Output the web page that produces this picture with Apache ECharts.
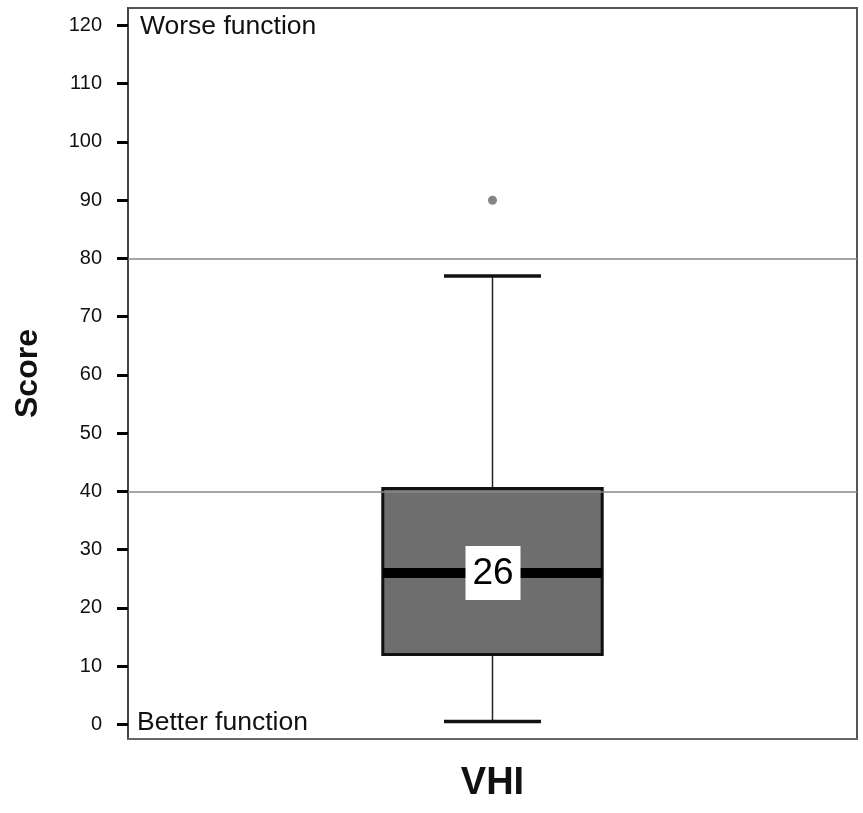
<!DOCTYPE html>
<html>
<head>
<meta charset="utf-8">
<script src="https://cdn.jsdelivr.net/npm/echarts@6/dist/echarts.min.js"></script>
<style>html,body{margin:0;padding:0;background:#fff}#c{width:863px;height:813px}</style>
</head>
<body>
<div id="c"></div>
<script>
const categories = ['VHI'];
// [lowWhisker, Q1, median, Q3, highWhisker]
const boxValues = [[0.5, 12, 26, 40.5, 77]];
const outliers = [['VHI', 90]];
const refLines = [40, 80];
const yTicks = [0,10,20,30,40,50,60,70,80,90,100,110,120];
const medianLabels = ['26'];

const FONT = 'Liberation Sans, Arial, Helvetica, sans-serif';
const chart = echarts.init(document.getElementById('c'));

chart.setOption({
  backgroundColor: '#fff',
  animation: false,
  grid: { left: 128, right: 6, top: 8, bottom: 74, show: true, borderColor: '#555', borderWidth: 2 },
  xAxis: {
    type: 'category', data: categories, boundaryGap: true,
    axisLine: { onZero: false, lineStyle: { color: '#666', width: 2 } },
    axisTick: { alignWithLabel: true, length: 14, lineStyle: { color: '#000', width: 3 } },
    axisLabel: { fontSize: 38, fontWeight: 'bold', color: '#111', fontFamily: FONT, margin: 26 }
  },
  yAxis: {
    type: 'value', min: -2.5, max: 123,
    name: 'Score', nameLocation: 'middle', nameGap: 84, nameRotate: 90,
    nameTextStyle: { fontSize: 32, fontWeight: 'bold', color: '#111', fontFamily: FONT },
    splitLine: { show: false },
    axisLine: { show: true, lineStyle: { color: '#444', width: 2 } },
    axisTick: { show: true, length: 11, customValues: yTicks, lineStyle: { color: '#000', width: 3 } },
    axisLabel: { customValues: yTicks, fontSize: 20, color: '#111', fontFamily: FONT, margin: 26 }
  },
  graphic: [
    { type: 'text', left: 140, top: 13, style: { text: 'Worse function', fontSize: 26.5, fill: '#111', fontFamily: FONT } },
    { type: 'text', left: 137, top: 709, style: { text: 'Better function', fontSize: 26.5, fill: '#111', fontFamily: FONT } }
  ],
  series: [
    {
      type: 'line', data: [],
      markLine: {
        silent: true, symbol: 'none', label: { show: false },
        lineStyle: { color: '#888', width: 1.5, type: 'solid' },
        data: refLines.map(v => ({ yAxis: v }))
      }
    },
    {
      type: 'custom',
      data: boxValues.map((b, i) => [i].concat(b)),
      renderItem: function (params, api) {
        const i = api.value(0);
        const lo = api.coord([i, api.value(1)]);
        const q1 = api.coord([i, api.value(2)]);
        const md = api.coord([i, api.value(3)]);
        const q3 = api.coord([i, api.value(4)]);
        const hi = api.coord([i, api.value(5)]);
        const band = api.size([1, 0])[0];
        const bw = band * 0.301 / 2;
        const cw = band * 0.133 / 2;
        const x = lo[0];
        const label = medianLabels[params.dataIndex];
        return {
          type: 'group',
          children: [
            { type: 'line', shape: { x1: x, y1: hi[1], x2: x, y2: q3[1] }, style: { stroke: '#222', lineWidth: 1.5 } },
            { type: 'line', shape: { x1: x, y1: q1[1], x2: x, y2: lo[1] }, style: { stroke: '#222', lineWidth: 1.5 } },
            { type: 'line', shape: { x1: x - cw, y1: hi[1], x2: x + cw, y2: hi[1] }, style: { stroke: '#111', lineWidth: 3.5 } },
            { type: 'line', shape: { x1: x - cw, y1: lo[1], x2: x + cw, y2: lo[1] }, style: { stroke: '#111', lineWidth: 3.5 } },
            { type: 'rect', shape: { x: x - bw, y: q3[1], width: 2 * bw, height: q1[1] - q3[1] }, style: { fill: '#6e6e6e', stroke: '#111', lineWidth: 3 } },
            { type: 'line', shape: { x1: x - bw, y1: md[1], x2: x + bw, y2: md[1] }, style: { stroke: '#000', lineWidth: 10 } },
            { type: 'rect', shape: { x: x - 27, y: md[1] - 27, width: 55, height: 54 }, style: { fill: '#fff' } },
            { type: 'text', x: x + 0.5, y: md[1] + 1, style: { text: label, fontSize: 37, fill: '#000', fontFamily: FONT, align: 'center', verticalAlign: 'middle' } }
          ]
        };
      },
      z: 3
    },
    {
      type: 'scatter', data: outliers, symbol: 'circle', symbolSize: 9,
      itemStyle: { color: '#666' }, z: 4
    }
  ]
});
</script>
</body>
</html>
